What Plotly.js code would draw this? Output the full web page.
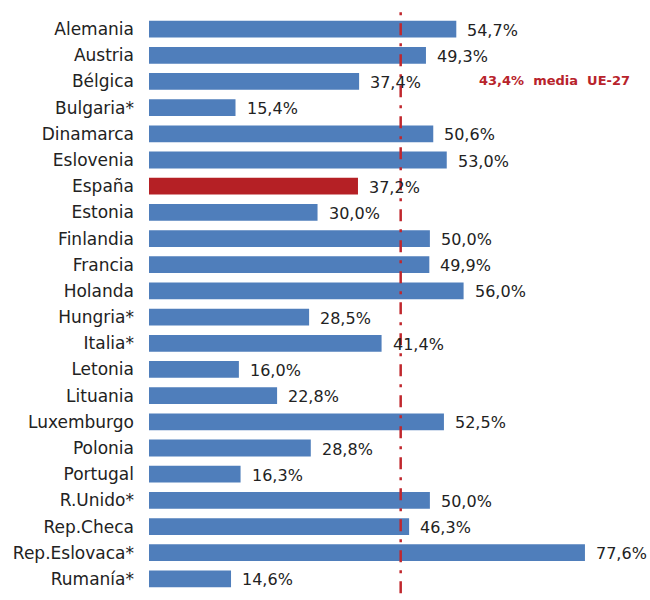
<!DOCTYPE html>
<html>
<head>
<meta charset="utf-8">
<script src="https://cdn.plot.ly/plotly-3.0.1.min.js"></script>
<style>html,body{margin:0;padding:0;background:#fff;}#chart{width:650px;height:600px;}</style>
</head>
<body>
<div id="chart"></div>
<script>
const categories = ["Alemania","Austria","Bélgica","Bulgaria*","Dinamarca","Eslovenia","España","Estonia","Finlandia","Francia","Holanda","Hungria*","Italia*","Letonia","Lituania","Luxemburgo","Polonia","Portugal","R.Unido*","Rep.Checa","Rep.Eslovaca*","Rumanía*"];
const values = [54.7,49.3,37.4,15.4,50.6,53.0,37.2,30.0,50.0,49.9,56.0,28.5,41.4,16.0,22.8,52.5,28.8,16.3,50.0,46.3,77.6,14.6];
const highlight = "España";
const mediaUE = 43.4;
const mediaLinePos = 44.8; // where the reference draws the dashed line
const mediaLabel = "43,4%  media  UE-27";

const blue = "#4F7EBB", red = "#B52025", lineRed = "#C0272D";
const fmt = v => v.toFixed(1).replace(".", ",") + "%";

const trace = {
  type: "bar", orientation: "h",
  x: values, y: categories,
  marker: {color: categories.map(c => c === highlight ? red : blue)},
  hoverinfo: "skip"
};

const annotations = values.map((v, i) => ({
  x: v, y: categories[i], xref: "x", yref: "y",
  text: fmt(v), showarrow: false, xanchor: "left", yanchor: "middle",
  xshift: 9, yshift: -1,
  font: {family: "DejaVu Sans", size: 16, color: "#222"}
}));
annotations.push({
  x: mediaLinePos, y: "Bélgica", xref: "x", yref: "y",
  text: "<b>" + mediaLabel + "</b>", showarrow: false, xanchor: "left", yanchor: "middle",
  xshift: 76, yshift: 1,
  font: {family: "DejaVu Sans", size: 13, color: "#B8232B"}
});

const layout = {
  width: 650, height: 600,
  margin: {l: 149, r: 10, t: 16, b: 8},
  paper_bgcolor: "#fff", plot_bgcolor: "#fff",
  showlegend: false,
  bargap: 0.36,
  xaxis: {range: [0, 87.4], visible: false, fixedrange: true},
  yaxis: {
    type: "category", autorange: "reversed",
    showline: false, showgrid: false, zeroline: false, ticks: "",
    ticklabelstandoff: 14,
    tickfont: {family: "DejaVu Sans", size: 17, color: "#222"}
  },
  shapes: [{
    type: "line", xref: "x", yref: "paper",
    x0: mediaLinePos, x1: mediaLinePos, y0: -0.002, y1: 1.014,
    line: {color: lineRed, width: 2.5, dash: "12px,8px,3px,8px"}
  }],
  annotations: annotations
};

Plotly.newPlot("chart", [trace], layout, {staticPlot: true, displayModeBar: false});
</script>
</body>
</html>
